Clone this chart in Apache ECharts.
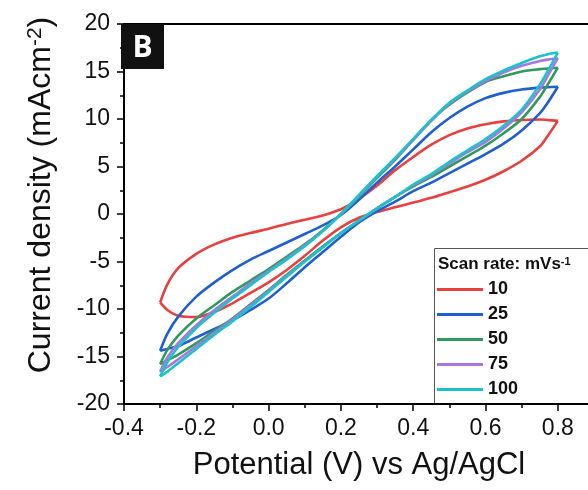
<!DOCTYPE html>
<html>
<head>
<meta charset="utf-8">
<script src="https://cdn.jsdelivr.net/npm/echarts@6/dist/echarts.min.js"></script>
<style>
html,body{margin:0;padding:0;background:#fff;}
#chart{width:588px;height:490px;}
</style>
</head>
<body>
<div id="chart"></div>
<script>
// Potential grid (V vs Ag/AgCl), shared by all branches
const potential = [-0.30,-0.28,-0.25,-0.20,-0.15,-0.10,-0.05,0.00,0.05,0.10,0.15,0.20,0.25,0.30,0.35,0.40,0.45,0.50,0.55,0.60,0.65,0.70,0.75,0.77,0.80];

// Scan rates (legend)
const scanRates = ['10','25','50','75','100'];

// Upper (anodic) branch current densities, mA/cm^2
const upper10  = [-9.3,-7.4,-5.7,-4.2,-3.2,-2.5,-2.0,-1.55,-1.05,-0.6,-0.15,0.5,1.6,3.0,4.6,6.0,7.3,8.3,9.0,9.45,9.75,9.9,9.95,9.9,9.8];
const upper25  = [-14.4,-12.6,-10.8,-8.7,-7.2,-5.9,-4.8,-3.9,-3.0,-2.1,-1.2,-0.1,1.5,3.3,5.0,6.8,8.6,10.1,11.3,12.2,12.75,13.1,13.3,13.35,13.4];
const upper50  = [-15.8,-14.3,-12.8,-11.0,-9.6,-8.2,-7.0,-5.8,-4.5,-3.2,-1.7,0.0,1.8,3.8,5.7,7.8,9.9,11.5,12.8,13.9,14.5,15.0,15.25,15.3,15.4];
const upper75  = [-16.6,-15.1,-13.6,-11.7,-10.1,-8.7,-7.3,-6.0,-4.7,-3.3,-1.8,0.0,1.9,3.9,5.8,7.8,9.8,11.6,12.9,14.0,14.9,15.6,16.1,16.25,16.4];
const upper100 = [-17.1,-15.6,-14.0,-12.0,-10.4,-8.9,-7.5,-6.1,-4.8,-3.4,-1.8,0.0,2.0,4.0,5.9,7.9,9.9,11.7,13.0,14.2,15.1,15.9,16.6,16.8,17.0];

// Lower (cathodic) branch current densities, listed at the same potentials
const lower10  = [-9.3,-10.1,-10.7,-10.85,-10.3,-9.4,-8.3,-7.2,-5.9,-4.4,-2.8,-1.4,-0.4,0.2,0.7,1.2,1.7,2.3,2.9,3.6,4.5,5.6,7.1,8.1,9.8];
const lower25  = [-14.4,-14.2,-13.9,-13.0,-12.1,-11.2,-10.1,-8.9,-7.3,-5.6,-4.0,-2.4,-0.9,0.3,1.3,2.4,3.3,4.3,5.3,6.3,7.4,8.8,10.6,11.6,13.4];
const lower50  = [-15.8,-15.4,-14.8,-13.6,-12.3,-11.0,-9.5,-8.0,-6.4,-4.9,-3.4,-2.0,-0.7,0.6,1.8,2.9,3.9,5.0,6.1,7.2,8.5,10.0,12.3,13.5,15.4];
const lower75  = [-16.6,-16.1,-15.3,-13.9,-12.5,-11.1,-9.6,-8.1,-6.5,-5.0,-3.5,-2.0,-0.7,0.6,1.8,3.0,4.1,5.3,6.5,7.6,9.0,10.7,13.1,14.4,16.4];
const lower100 = [-17.1,-16.6,-15.7,-14.2,-12.7,-11.3,-9.8,-8.2,-6.6,-5.0,-3.5,-2.0,-0.7,0.6,1.8,3.1,4.2,5.5,6.7,7.9,9.3,11.0,13.6,14.9,17.0];

const colors = ['#e8403f','#1f5fd0','#2e9a5c','#a776e2','#1ac3c8'];

const uppers = [upper10, upper25, upper50, upper75, upper100];
const lowers = [lower10, lower25, lower50, lower75, lower100];

const FONT = '"Liberation Sans", Arial, sans-serif';

const series = [];
scanRates.forEach((name, i) => {
  ['u','l'].forEach(b => {
    const arr = b === 'u' ? uppers[i] : lowers[i];
    series.push({
      name: name,
      type: 'line',
      xAxisIndex: 0, yAxisIndex: 0,
      data: potential.map((v, k) => [v, arr[k]]),
      showSymbol: false,
      symbol: 'none',
      smooth: 0.3,
      lineStyle: {color: colors[i], width: 2.6},
      itemStyle: {color: colors[i]},
      z: 2 + i
    });
  });
});

const chart = echarts.init(document.getElementById('chart'), null, {renderer: 'canvas'});
chart.setOption({
  animation: false,
  backgroundColor: '#fff',
  grid: {left: 124, top: 24, right: -6, bottom: 86, containLabel: false, outerBoundsMode: 'none'},
  xAxis: [{
    type: 'value', min: -0.4, max: 0.9, interval: 0.2,
    name: 'Potential (V) vs Ag/AgCl', nameLocation: 'middle', nameGap: 46,
    nameTextStyle: {fontSize: 31, fontFamily: FONT, color: '#111'},
    axisLine: {show: true, onZero: false, lineStyle: {color: '#000', width: 2}},
    axisTick: {show: true, length: 7, lineStyle: {color: '#000', width: 1.5}},
    minorTick: {show: true, splitNumber: 2, length: 4, lineStyle: {color: '#000', width: 1.5}},
    splitLine: {show: false},
    axisLabel: {fontSize: 23, fontFamily: FONT, color: '#111', margin: 13,
      formatter: v => Math.abs(v - 0.9) < 1e-6 ? '' : v.toFixed(1)}
  }, {
    type: 'value', position: 'top', min: -0.4, max: 0.9,
    axisLine: {show: true, onZero: false, lineStyle: {color: '#000', width: 2}},
    axisTick: {show: false}, axisLabel: {show: false}, splitLine: {show: false}
  }],
  yAxis: [{
    type: 'value', min: -20, max: 20, interval: 5,
    name: 'Current density (mAcm{sup|-2})', nameLocation: 'middle', nameGap: 67,
    nameTextStyle: {fontSize: 32, fontFamily: FONT, color: '#111', padding: [0, 0, 0, 38],
      rich: {sup: {fontSize: 21, fontFamily: FONT, color: '#111', verticalAlign: 'top'}}},
    axisLine: {show: true, onZero: false, lineStyle: {color: '#000', width: 2}},
    axisTick: {show: true, length: 7, lineStyle: {color: '#000', width: 1.5}},
    minorTick: {show: true, splitNumber: 2, length: 4, lineStyle: {color: '#000', width: 1.5}},
    splitLine: {show: false},
    axisLabel: {fontSize: 23, fontFamily: FONT, color: '#111', margin: 14}
  }],
  legend: {
    orient: 'vertical', left: 437, top: 277, padding: 0,
    data: scanRates,
    icon: 'rect', itemWidth: 46, itemHeight: 3, itemGap: 0,
    textStyle: {fontSize: 18, fontWeight: 'bold', fontFamily: FONT, color: '#111', lineHeight: 25},
    selectedMode: false
  },
  graphic: [
    {type: 'rect', z: 0, shape: {x: 434.5, y: 248.5, width: 200, height: 156},
     style: {fill: '#fff', stroke: '#555', lineWidth: 1}},
    {type: 'text', z: 10, left: 438, top: 256,
     style: {text: 'Scan rate: mVs{sup|-1}', fontSize: 17, fontWeight: 'bold', fontFamily: FONT, fill: '#111',
       rich: {sup: {fontSize: 11, fontWeight: 'bold', fontFamily: FONT, fill: '#111', verticalAlign: 'top'}}}},
    {type: 'rect', z: 10, shape: {x: 121, y: 24, width: 43, height: 45}, style: {fill: '#111'}},
    {type: 'text', z: 11, x: 142.5, y: 48,
     style: {text: 'B', fontSize: 30, fontWeight: 'bold', fontFamily: '"Open Sans", "Liberation Sans", sans-serif',
       fill: '#fff', align: 'center', verticalAlign: 'middle'}}
  ],
  series: series
});
</script>
</body>
</html>
